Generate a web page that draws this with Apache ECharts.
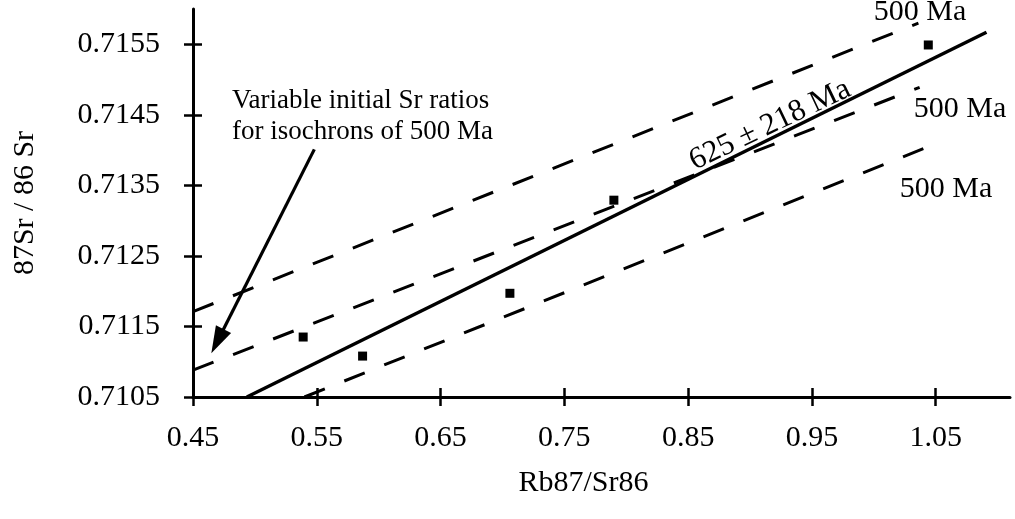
<!DOCTYPE html>
<html>
<head>
<meta charset="utf-8">
<script src="https://cdn.jsdelivr.net/npm/echarts@6/dist/echarts.min.js"></script>
<style>
html,body{margin:0;padding:0;background:#fff;}
#chart{width:1015px;height:519px;}
</style>
</head>
<body>
<div id="chart"></div>
<script>
// ---- data ----
const xTicks = [0.45, 0.55, 0.65, 0.75, 0.85, 0.95, 1.05];
const yTicks = [0.7105, 0.7115, 0.7125, 0.7135, 0.7145, 0.7155];
const sampleRbSr = [0.539, 0.587, 0.706, 0.790, 1.044];
const sampleSrSr = [0.71135, 0.71108, 0.71197, 0.71329, 0.71549];
const isochron625 = [[0.4935, 0.7105], [1.091, 0.71567]];
const iso500Upper = [[0.45, 0.71171], [1.036, 0.71580]];
const iso500Middle = [[0.45, 0.71088], [1.037, 0.71489]];
const iso500Lower = [[0.540, 0.7105], [1.040, 0.71402]];
const arrowTail = [0.548, 0.71401];
const arrowTip = [0.4648, 0.71112];
const xRange = [0.45, 1.11];
const yRange = [0.7105, 0.7160];
const xName = 'Rb87/Sr86';
const yName = '87Sr / 86 Sr';
const isoLabel = '625 ± 218 Ma';
const ageLabel = '500 Ma';
const noteText = 'Variable initial Sr ratios\nfor isochrons of 500 Ma';

const FONT = '"Liberation Serif", "Times New Roman", serif';
const samples = sampleRbSr.map((x, i) => [x, sampleSrSr[i]]);

const gridBox = { left: 193, right: 5, top: 9, bottom: 122 };

function mainX() {
  return {
    type: 'value', gridIndex: 0, min: xRange[0], max: xRange[1],
    name: xName, nameLocation: 'middle', nameGap: 71,
    nameTextStyle: { fontFamily: FONT, fontSize: 30, color: '#000', padding: [0, 36, 0, 0] },
    axisLine: { show: true, lineStyle: { color: '#000', width: 3 } },
    axisTick: { show: true, inside: false, length: 9, lineStyle: { color: '#000', width: 2.5 }, customValues: xTicks },
    axisLabel: { show: true, margin: 26, fontFamily: FONT, fontSize: 30, color: '#000',
      customValues: xTicks, formatter: v => v.toFixed(2) },
    splitLine: { show: false }
  };
}
function mainY() {
  return {
    type: 'value', gridIndex: 0, min: yRange[0], max: yRange[1],
    name: yName, nameLocation: 'middle', nameGap: 153, nameRotate: 90,
    nameTextStyle: { fontFamily: FONT, fontSize: 30, color: '#000' },
    axisLine: { show: true, lineStyle: { color: '#000', width: 3 } },
    axisTick: { show: true, inside: false, length: 9, lineStyle: { color: '#000', width: 2.5 }, customValues: yTicks },
    axisLabel: { show: true, margin: 33, fontFamily: FONT, fontSize: 30, color: '#000',
      customValues: yTicks, formatter: v => v.toFixed(4) },
    splitLine: { show: false }
  };
}
function innerX() {
  return {
    type: 'value', gridIndex: 1, min: xRange[0], max: xRange[1],
    axisLine: { show: false },
    axisTick: { show: true, inside: true, length: 9, lineStyle: { color: '#000', width: 2.5 }, customValues: xTicks },
    axisLabel: { show: false }, splitLine: { show: false }
  };
}
function innerY() {
  return {
    type: 'value', gridIndex: 1, min: yRange[0], max: yRange[1],
    axisLine: { show: false },
    axisTick: { show: true, inside: true, length: 9, lineStyle: { color: '#000', width: 2.5 }, customValues: yTicks },
    axisLabel: { show: false }, splitLine: { show: false }
  };
}

function segment(name, pts, dashed, width) {
  return {
    name, type: 'line', xAxisIndex: 0, yAxisIndex: 0, data: pts,
    showSymbol: false, symbol: 'none', clip: true, silent: true,
    lineStyle: { color: '#000', width: width, type: dashed ? [22, 21] : 'solid', cap: 'butt' },
    z: 3
  };
}

function renderArrow(params, api) {
  const p1 = api.coord([api.value(0), api.value(1)]);
  const p2 = api.coord([api.value(2), api.value(3)]);
  const dx = p2[0] - p1[0], dy = p2[1] - p1[1];
  const len = Math.sqrt(dx * dx + dy * dy);
  const ux = dx / len, uy = dy / len;
  const headLen = 27, headHalf = 8.5;
  const bx = p2[0] - ux * headLen, by = p2[1] - uy * headLen;
  const nx = -uy, ny = ux;
  return {
    type: 'group',
    children: [
      { type: 'line', shape: { x1: p1[0], y1: p1[1], x2: bx + ux * 2, y2: by + uy * 2 },
        style: { stroke: '#000', lineWidth: 3.2 } },
      { type: 'polygon', shape: { points: [[p2[0], p2[1]], [bx + nx * headHalf, by + ny * headHalf], [bx - nx * headHalf, by - ny * headHalf]] },
        style: { fill: '#000' } }
    ]
  };
}

const chart = echarts.init(document.getElementById('chart'), null, { renderer: 'canvas' });
chart.setOption({
  animation: false,
  backgroundColor: '#fff',
  grid: [Object.assign({}, gridBox), Object.assign({}, gridBox)],
  xAxis: [mainX(), innerX()],
  yAxis: [mainY(), innerY()],
  series: [
    segment('iso500Upper', iso500Upper, true, 3),
    segment('iso500Middle', iso500Middle, true, 3),
    segment('iso500Lower', iso500Lower, true, 3),
    segment('isochron625', isochron625, false, 3.5),
    {
      name: 'arrow', type: 'custom', xAxisIndex: 0, yAxisIndex: 0,
      data: [[arrowTail[0], arrowTail[1], arrowTip[0], arrowTip[1]]],
      renderItem: renderArrow, silent: true, clip: false, z: 4
    },
    {
      name: 'samples', type: 'scatter', xAxisIndex: 0, yAxisIndex: 0, data: samples,
      symbol: 'rect', symbolSize: 9, itemStyle: { color: '#000', opacity: 1 }, z: 5
    }
  ],
  graphic: [
    { type: 'text', x: 232, y: 85, silent: true,
      style: { text: noteText, fontFamily: FONT, fontSize: 27, lineHeight: 31, fill: '#000', align: 'left', verticalAlign: 'top' } },
    { type: 'text', x: 770, y: 125, rotation: 25.5 * Math.PI / 180, silent: true,
      style: { text: isoLabel, fontFamily: FONT, fontSize: 31, fill: '#000', align: 'center', verticalAlign: 'middle' } },
    { type: 'text', x: 920, y: 12, silent: true,
      style: { text: ageLabel, fontFamily: FONT, fontSize: 30, fill: '#000', align: 'center', verticalAlign: 'middle' } },
    { type: 'text', x: 960, y: 109, silent: true,
      style: { text: ageLabel, fontFamily: FONT, fontSize: 30, fill: '#000', align: 'center', verticalAlign: 'middle' } },
    { type: 'text', x: 946, y: 189, silent: true,
      style: { text: ageLabel, fontFamily: FONT, fontSize: 30, fill: '#000', align: 'center', verticalAlign: 'middle' } }
  ]
});
</script>
</body>
</html>
